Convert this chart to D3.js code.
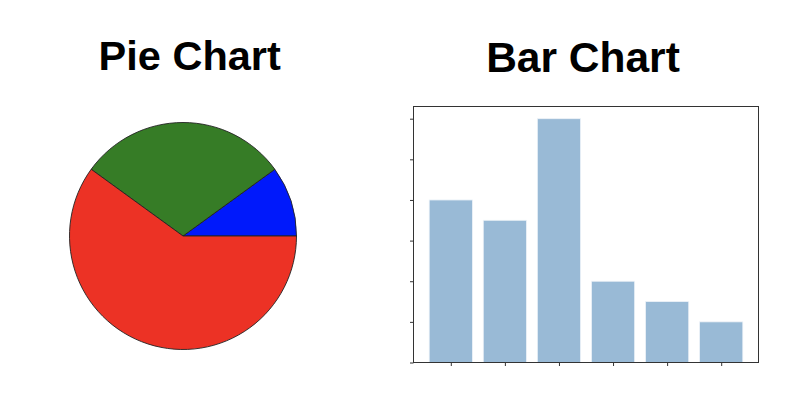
<!DOCTYPE html>
<html>
<head>
<meta charset="utf-8">
<script src="https://cdn.jsdelivr.net/npm/d3@7"></script>
<style>
  body { margin: 0; background: #fff; }
  svg { display: block; }
</style>
</head>
<body>
<script>
// pie data (shares, counter-clockwise from 3 o'clock)
var pieLabels = ["A", "B", "C"];
var pieValues = [10, 30, 60];
var pieColors = ["#0019fb", "#367c26", "#ec3225"];

// bar data
var barCategories = ["a", "b", "c", "d", "e", "f"];
var barValues = [4, 3.5, 6, 2, 1.5, 1];
var yTicks = [0, 1, 2, 3, 4, 5, 6];

var width = 810, height = 413;

var svg = d3.select("body").append("svg")
  .attr("width", width)
  .attr("height", height);

// ---- pie ----
var pieCx = 183, pieCy = 236, pieR = 113.5;

svg.append("text")
  .attr("x", 189.7)
  .attr("y", 69.5)
  .attr("text-anchor", "middle")
  .attr("font-family", "Liberation Sans, Arial, sans-serif")
  .attr("font-weight", "bold")
  .attr("font-size", 41.5)
  .text("Pie Chart");

var pie = d3.pie()
  .sort(null)
  .startAngle(Math.PI / 2)
  .endAngle(Math.PI / 2 - 2 * Math.PI);

var arc = d3.arc().innerRadius(0).outerRadius(pieR);

svg.append("g")
  .attr("transform", "translate(" + pieCx + "," + pieCy + ")")
  .selectAll("path")
  .data(pie(pieValues))
  .enter()
  .append("path")
  .attr("d", arc)
  .attr("fill", function(d, i){ return pieColors[i]; })
  .attr("stroke", "#222")
  .attr("stroke-width", 0.9);

// ---- bars ----
var bx0 = 413.5, bx1 = 758.5, by0 = 106.5, by1 = 362.5;

svg.append("text")
  .attr("x", 583)
  .attr("y", 72)
  .attr("text-anchor", "middle")
  .attr("font-family", "Liberation Sans, Arial, sans-serif")
  .attr("font-weight", "bold")
  .attr("font-size", 42.5)
  .text("Bar Chart");

var x = d3.scaleLinear()
  .domain([-0.69, barCategories.length - 1 + 0.69])
  .range([bx0, bx1]);

var y = d3.scaleLinear()
  .domain([0, 6.3])
  .range([by1, by0]);

var bw = x(0.8) - x(0);

svg.append("g")
  .selectAll("rect")
  .data(barValues)
  .enter()
  .append("rect")
  .attr("x", function(d, i){ return x(i - 0.4); })
  .attr("y", function(d){ return y(d); })
  .attr("width", bw)
  .attr("height", function(d){ return y(0) - y(d); })
  .attr("fill", "steelblue")
  .attr("fill-opacity", 0.55)
  .attr("stroke", "#eef3f8")
  .attr("stroke-width", 0.8);

svg.append("g")
  .attr("transform", "translate(0," + by1 + ")")
  .call(d3.axisBottom(x)
    .tickValues(d3.range(barCategories.length))
    .tickSize(3.5)
    .tickFormat(""))
  .call(function(g){ g.select(".domain").remove(); });

svg.append("g")
  .attr("transform", "translate(" + bx0 + ",0)")
  .call(d3.axisLeft(y)
    .tickValues(yTicks)
    .tickSize(3.5)
    .tickFormat(""))
  .call(function(g){ g.select(".domain").remove(); });

svg.selectAll(".tick line").attr("stroke", "#333");

svg.append("rect")
  .attr("x", bx0)
  .attr("y", by0)
  .attr("width", bx1 - bx0)
  .attr("height", by1 - by0)
  .attr("fill", "none")
  .attr("stroke", "#333")
  .attr("stroke-width", 1);
</script>
</body>
</html>
